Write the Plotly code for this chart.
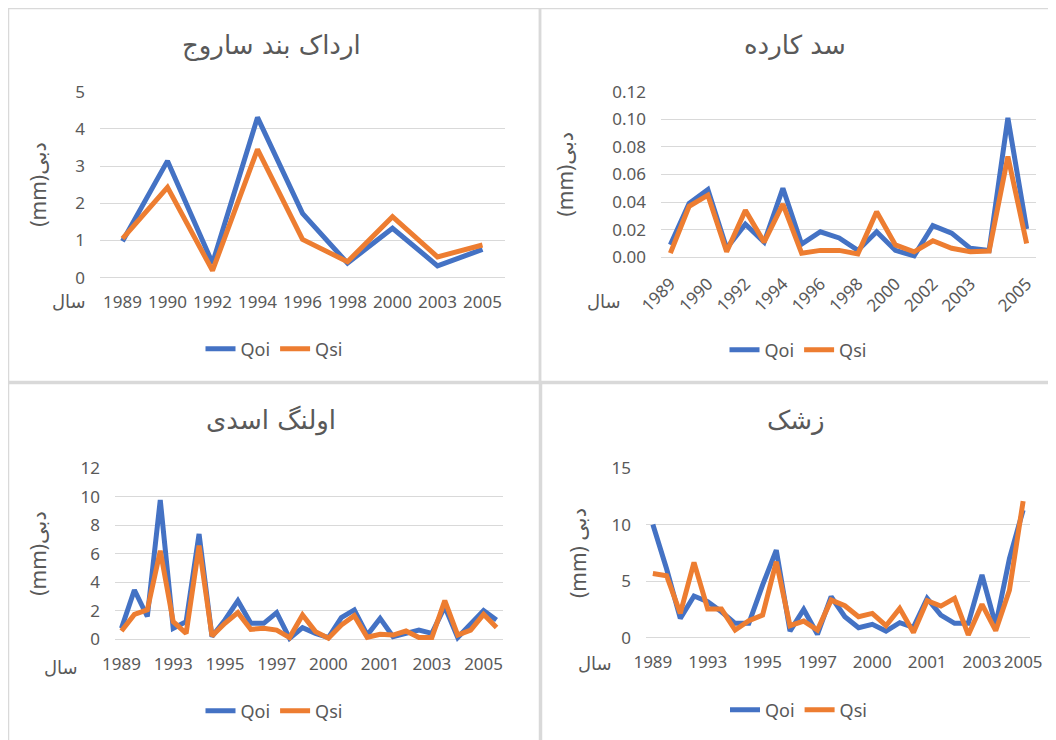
import plotly.graph_objects as go

# --- data ---
years_sarooj = ['1989', '1990', '1992', '1994', '1996', '1998', '2000', '2003', '2005']
qoi_sarooj = [0.98, 3.14, 0.39, 4.31, 1.73, 0.39, 1.33, 0.32, 0.76]
qsi_sarooj = [1.05, 2.43, 0.19, 3.45, 1.03, 0.43, 1.64, 0.56, 0.88]

years_kardeh = ['1989', '', '1990', '', '1992', '', '1994', '', '1996', '', '1998', '',
                '2000', '', '2002', '', '2003', '', '', '2005']
qoi_kardeh = [0.009, 0.039, 0.049, 0.0065, 0.024, 0.011, 0.050, 0.0095, 0.0185, 0.014,
              0.005, 0.0185, 0.005, 0.001, 0.023, 0.0175, 0.0065, 0.005, 0.101, 0.0205]
qsi_kardeh = [0.003, 0.037, 0.045, 0.004, 0.034, 0.011, 0.0385, 0.003, 0.005, 0.005,
              0.0025, 0.033, 0.009, 0.004, 0.012, 0.0065, 0.004, 0.0045, 0.073, 0.010]

years_olang = ['1989', '', '', '', '1993', '', '', '', '1995', '', '', '', '1997', '', '',
               '', '2000', '', '', '', '2001', '', '', '', '2003', '', '', '', '2005', '']
qoi_olang = [0.77, 3.46, 1.6, 9.78, 0.77, 1.24, 7.39, 0.19, 1.36, 2.71, 1.12, 1.12, 1.87,
             0.07, 0.82, 0.42, 0.12, 1.52, 2.06, 0.3, 1.47, 0.19, 0.42, 0.65, 0.42, 2.29,
             0.12, 1.12, 2.01, 1.36]
qsi_olang = [0.58, 1.75, 2.06, 6.22, 1.24, 0.42, 6.57, 0.23, 1.12, 1.87, 0.70, 0.77, 0.65,
             0.12, 1.71, 0.54, 0.07, 1.0, 1.66, 0.14, 0.35, 0.3, 0.58, 0.12, 0.12, 2.71,
             0.3, 0.65, 1.75, 0.82]

years_zeshk = ['1989', '', '', '', '1993', '', '', '', '1995', '', '', '', '1997', '', '',
               '', '2000', '', '', '', '2001', '', '', '', '2003', '', '', '2005']
qoi_zeshk = [10.03, 6.1, 1.71, 3.69, 3.19, 2.3, 1.27, 1.27, 4.66, 7.76, 0.59, 2.5, 0.3,
             3.63, 1.86, 0.88, 1.18, 0.59, 1.33, 0.91, 3.48, 2.0, 1.27, 1.27, 5.55, 1.12,
             7.0, 11.3]
qsi_zeshk = [5.69, 5.49, 2.15, 6.67, 2.54, 2.54, 0.68, 1.5, 2.0, 6.73, 1.06, 1.47, 0.68,
             3.33, 2.83, 1.86, 2.15, 1.06, 2.6, 0.47, 3.27, 2.8, 3.48, 0.24, 2.95, 0.62,
             4.2, 12.1]

W, H = 1056, 740
OFF = 8  # the page body adds an 8px margin, so positions are shifted back by it
BLUE, ORANGE = '#4472C4', '#ED7D31'
GREY_TXT, GRID = '#595959', '#D9D9D9'
FONT = 'Noto Sans, DejaVu Sans, sans-serif'


def px_x(v):
    return (v - OFF) / W


def px_y(v):
    return 1 - (v - OFF) / H


fig = go.Figure()
layout = {}
annotations = []
shapes = []

panels = [
    # plot box = (x0, x1, y_top, y_zero) in screen pixels, rect = panel border
    dict(title='ارداک بند ساروج', ytitle='(mm)دبی', years=years_sarooj, qoi=qoi_sarooj,
         qsi=qsi_sarooj, ymax=5, dtick=1, fmt='', angle=0,
         box=(100, 505, 91.7, 277.7), rect=(8, 540, 8, 382), leg_y=349, yt_x=38, sal=(69, 302)),
    dict(title='سد کارده', ytitle='(mm)دبی', years=years_kardeh, qoi=qoi_kardeh,
         qsi=qsi_kardeh, ymax=0.12, dtick=0.02, fmt='.2f', angle=-45,
         box=(661, 1036, 91.7, 257.3), rect=(540, 1070, 8, 382), leg_y=350, yt_x=565, sal=(604, 302)),
    dict(title='اولنگ اسدی', ytitle='(mm)دبی', years=years_olang, qoi=qoi_olang,
         qsi=qsi_olang, ymax=12, dtick=2, fmt='', angle=0,
         box=(115, 503, 468.3, 639.3), rect=(8, 540, 383, 760), leg_y=711, yt_x=38, sal=(61, 667)),
    dict(title='زشک', ytitle='(mm) دبی', years=years_zeshk, qoi=qoi_zeshk,
         qsi=qsi_zeshk, ymax=15, dtick=5, fmt='', angle=0,
         box=(646, 1030, 468.3, 637.7), rect=(541, 1070, 383, 760), leg_y=710, yt_x=578, sal=(595, 663)),
]

for i, p in enumerate(panels, start=1):
    sfx = '' if i == 1 else str(i)
    leg = 'legend' + sfx
    x = list(range(len(p['years'])))
    for name, vals, col in [('Qoi', p['qoi'], BLUE), ('Qsi', p['qsi'], ORANGE)]:
        fig.add_trace(go.Scatter(x=x, y=vals, name=name, mode='lines',
                                 line=dict(color=col, width=5),
                                 xaxis='x' + sfx, yaxis='y' + sfx, legend=leg))

    x0, x1, yt, y0 = p['box']
    pad = 0.02
    ybot = y0 + pad * (y0 - yt)
    tickvals = [j for j, lab in enumerate(p['years']) if lab]
    ticktext = [lab for lab in p['years'] if lab]

    layout['xaxis' + sfx] = dict(
        domain=[px_x(x0), px_x(x1)], anchor='y' + sfx, range=[-0.5, len(x) - 0.5],
        tickvals=tickvals, ticktext=ticktext, tickangle=p['angle'], automargin=False,
        showgrid=False, zeroline=False, showline=False, ticks='',
        tickfont=dict(family=FONT, size=17, color=GREY_TXT), ticklabelstandoff=9)
    layout['yaxis' + sfx] = dict(
        domain=[px_y(ybot), px_y(yt)], anchor='x' + sfx, range=[-pad * p['ymax'], p['ymax']],
        dtick=p['dtick'], tick0=0, tickformat=p['fmt'], showgrid=True, gridcolor=GRID,
        gridwidth=1.3, zeroline=False, showline=False, ticks='', automargin=False,
        tickfont=dict(family=FONT, size=17, color=GREY_TXT), ticklabelstandoff=14)

    rx0, rx1, ry0, ry1 = p['rect']
    pcx = (rx0 + min(rx1, W)) / 2
    layout[leg] = dict(orientation='h', x=px_x(pcx), y=px_y(p['leg_y']),
                       xanchor='center', yanchor='middle', bgcolor='rgba(0,0,0,0)',
                       font=dict(family=FONT, size=18, color=GREY_TXT))

    annotations.append(dict(text=p['title'], x=px_x(pcx - 3), y=px_y(ry0 + 37),
                            xref='paper', yref='paper', showarrow=False,
                            xanchor='center', yanchor='middle',
                            font=dict(family='DejaVu Sans', size=26, color=GREY_TXT)))
    annotations.append(dict(text=p['ytitle'], x=px_x(p['yt_x']), y=px_y((yt + y0) / 2),
                            xref='paper', yref='paper', showarrow=False, textangle=-90,
                            xanchor='center', yanchor='middle',
                            font=dict(family=FONT, size=21, color=GREY_TXT)))
    annotations.append(dict(text='سال', x=px_x(p['sal'][0]), y=px_y(p['sal'][1]),
                            xref='paper', yref='paper', showarrow=False,
                            xanchor='center', yanchor='middle',
                            font=dict(family='DejaVu Sans', size=18, color=GREY_TXT)))
    shapes.append(dict(type='rect', xref='paper', yref='paper',
                       x0=px_x(rx0), x1=px_x(rx1), y0=px_y(ry1), y1=px_y(ry0),
                       line=dict(color=GRID, width=2.5), fillcolor='rgba(0,0,0,0)', layer='below'))

fig.update_layout(width=W, height=H, margin=dict(l=0, r=0, t=0, b=0, autoexpand=False),
                  paper_bgcolor='white', plot_bgcolor='white',
                  annotations=annotations, shapes=shapes, **layout)

fig.write_html("out.html")
